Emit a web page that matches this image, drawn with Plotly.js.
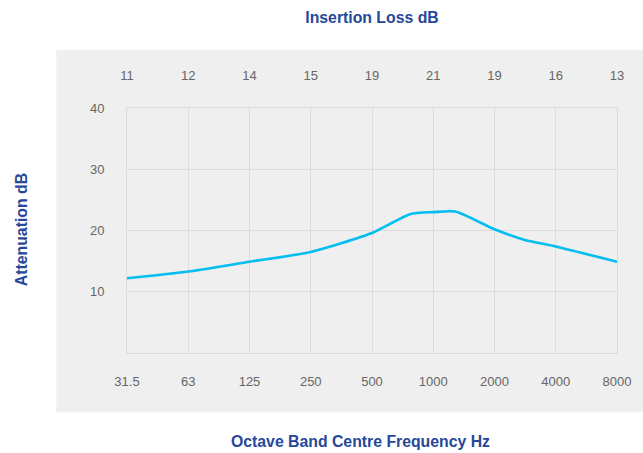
<!DOCTYPE html>
<html>
<head>
<meta charset="utf-8">
<script src="https://cdn.plot.ly/plotly-3.0.1.min.js"></script>
<style>html,body{margin:0;padding:0;background:#fff;}#chart{width:643px;height:453px;}</style>
</head>
<body>
<div id="chart"></div>
<script>
// Octave band centre frequencies (bottom axis labels)
const bands = ['31.5', '63', '125', '250', '500', '1000', '2000', '4000', '8000'];
// Insertion loss per band (top axis labels)
const insertionLoss = ['11', '12', '14', '15', '19', '21', '19', '16', '13'];
// Attenuation curve: position in octaves from 31.5 Hz, and attenuation dB
const curveOctave = [0, 1, 2, 3, 4, 4.63, 5, 5.36, 6, 6.48, 7, 8];
const curveAtten  = [12.2, 13.3, 14.9, 16.5, 19.6, 22.7, 23.0, 23.1, 20.2, 18.5, 17.4, 14.9];
const yTicks = [10, 20, 30, 40];

const bandIdx = bands.map((_, i) => i);
const blue = '#27479a';
const tickFont = {family: 'Liberation Sans, Arial, sans-serif', size: 13, color: '#666666'};
const titleFont = {family: 'Liberation Sans, Arial, sans-serif', size: 15.8, color: blue, weight: 'bold'};

const traces = [
  {x: curveOctave, y: curveAtten, type: 'scatter', mode: 'lines',
   line: {color: '#00bdf2', width: 2.6, shape: 'spline', smoothing: 0.6},
   hoverinfo: 'skip', showlegend: false},
  {x: [0, 8], y: [null, null], xaxis: 'x2', yaxis: 'y', type: 'scatter', mode: 'lines',
   showlegend: false, hoverinfo: 'skip'}
];

const W = 643, H = 453;
const L = 126.7, R = 616.7, T = 108, B = 353.3;
const pw = R - L, ph = B - T;

const layout = {
  width: W, height: H,
  margin: {l: L, r: W - R, t: T, b: H - B, pad: 0},
  paper_bgcolor: '#ffffff',
  plot_bgcolor: 'rgba(0,0,0,0)',
  showlegend: false,
  title: {text: '<b>Insertion Loss dB</b>', font: titleFont, x: 0.5, xref: 'paper',
          y: 1 - 17 / H, yref: 'container', yanchor: 'middle'},
  xaxis: {range: [0, 8], tickvals: bandIdx, ticktext: bands, showgrid: true,
          gridcolor: '#dcdcdc', gridwidth: 1, zeroline: false, showline: true, mirror: true,
          linecolor: '#dcdcdc', linewidth: 1, ticks: 'outside', ticklen: 16,
          tickcolor: 'rgba(0,0,0,0)', tickfont: tickFont, fixedrange: true},
  xaxis2: {range: [0, 8], overlaying: 'x', side: 'top', tickvals: bandIdx, ticktext: insertionLoss,
           showgrid: false, zeroline: false, showline: false, ticks: 'outside', ticklen: 22,
           tickcolor: 'rgba(0,0,0,0)', tickfont: tickFont, fixedrange: true},
  yaxis: {range: [0, 40], tickvals: yTicks, showgrid: true, gridcolor: '#dcdcdc', gridwidth: 1,
          zeroline: false, showline: true, mirror: true, linecolor: '#dcdcdc', linewidth: 1,
          ticks: 'outside', ticklen: 19, tickcolor: 'rgba(0,0,0,0)', tickfont: tickFont,
          fixedrange: true},
  shapes: [{type: 'rect', xref: 'paper', yref: 'paper', layer: 'below',
            x0: (56 - L) / pw, x1: (W + 2 - L) / pw,
            y0: (B - 412.7) / ph, y1: (B - 50) / ph,
            fillcolor: '#efefef', line: {width: 0}}],
  annotations: [
    {text: '<b>Octave Band Centre Frequency Hz</b>', xref: 'paper', yref: 'paper',
     x: (360 - L) / pw, y: (B - 441.5) / ph, xanchor: 'center', yanchor: 'middle',
     showarrow: false, font: titleFont},
    {text: '<b>Attenuation dB</b>', xref: 'paper', yref: 'paper',
     x: (22 - L) / pw, y: (B - 230) / ph, xanchor: 'center', yanchor: 'middle',
     textangle: -90, showarrow: false, font: titleFont}
  ]
};

Plotly.newPlot('chart', traces, layout, {displayModeBar: false, staticPlot: true});
</script>
</body>
</html>
